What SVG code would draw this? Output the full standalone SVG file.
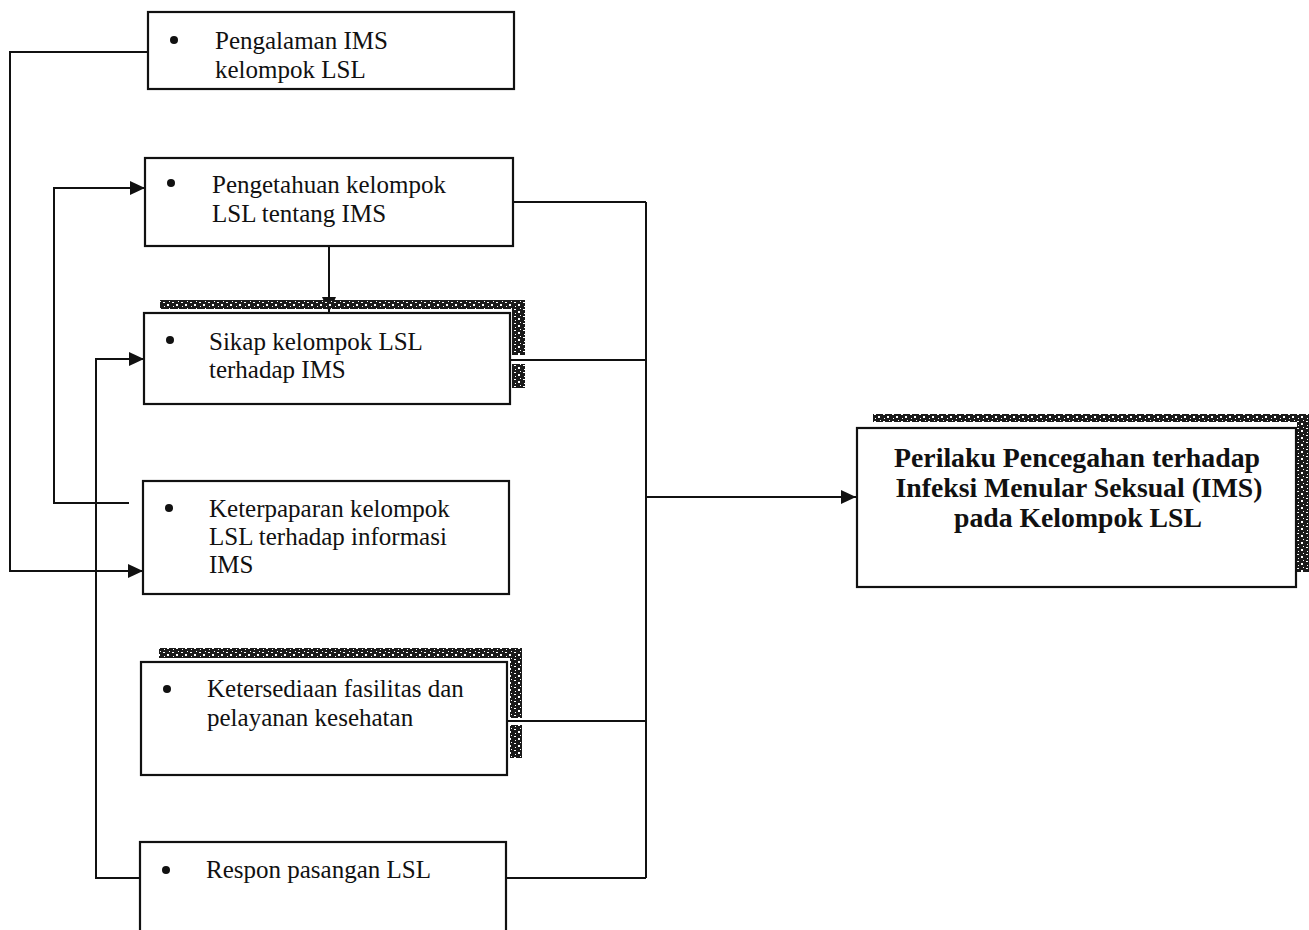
<svg xmlns="http://www.w3.org/2000/svg" width="1309" height="930" viewBox="0 0 1309 930">
  <defs>
    <marker id="ah" markerUnits="userSpaceOnUse" markerWidth="16" markerHeight="14" refX="15" refY="7" orient="auto">
      <path d="M0,0 L15,7 L0,14 z" fill="#111"/>
    </marker>
    <pattern id="noise" width="9" height="7" patternUnits="userSpaceOnUse">
      <rect width="9" height="7" fill="#1a1a1a"/>
      <rect x="1" y="1" width="2" height="1" fill="#fff"/>
      <rect x="5" y="3" width="2" height="2" fill="#fff"/>
      <rect x="2" y="5" width="1" height="1" fill="#fff"/>
      <rect x="7" y="0" width="1" height="1" fill="#fff"/>
    </pattern>
  </defs>
  <style>
    .box { fill: #fff; stroke: #111; stroke-width: 2.2; }
    .txt { font-family: "Liberation Serif", "Times New Roman", serif; font-size: 25px; fill: #111; }
    .title { font-family: "Liberation Serif", "Times New Roman", serif; font-size: 28px; font-weight: bold; fill: #111; }
    .conn { fill: none; stroke: #111; stroke-width: 2; }
    .shadow { fill: url(#noise); }
    .dot { fill: #111; }
  </style>
  <rect width="1309" height="930" fill="#fff"/>

  <g id="connectors">
    <path class="conn" d="M148,52 H10 V571 H143" marker-end="url(#ah)"/>
    <path class="conn" d="M129,503 H54 V188 H145" marker-end="url(#ah)"/>
    <path class="conn" d="M140,878 H96 V359 H144" marker-end="url(#ah)"/>
    <path class="conn" d="M329,246 V312" marker-end="url(#ah)"/>
    <path class="conn" d="M513,202 H646"/>
    <path class="conn" d="M511,360 H646"/>
    <path class="conn" d="M507,721 H646"/>
    <path class="conn" d="M506,878 H646"/>
    <path class="conn" d="M646,202 V878"/>
    <path class="conn" d="M646,497 H856" marker-end="url(#ah)"/>
  </g>

  <g id="node-pengalaman">
    <rect class="box" x="148" y="12" width="366" height="77"/>
    <circle class="dot" cx="174" cy="40" r="4"/>
    <text class="txt" x="215" y="49">Pengalaman IMS</text>
    <text class="txt" x="215" y="78">kelompok LSL</text>
  </g>

  <g id="node-pengetahuan">
    <rect class="box" x="145" y="158" width="368" height="88"/>
    <circle class="dot" cx="171" cy="183" r="4"/>
    <text class="txt" x="212" y="193">Pengetahuan kelompok</text>
    <text class="txt" x="212" y="222">LSL tentang IMS</text>
  </g>

  <g id="node-sikap">
    <rect class="shadow" x="160" y="300" width="365" height="9"/>
    <rect class="shadow" x="512" y="300" width="13" height="55"/>
    <rect class="shadow" x="512" y="364" width="13" height="24"/>
    <rect class="box" x="144" y="313" width="366" height="91"/>
    <circle class="dot" cx="170" cy="340" r="4"/>
    <text class="txt" x="209" y="350">Sikap kelompok LSL</text>
    <text class="txt" x="209" y="378">terhadap IMS</text>
  </g>

  <g id="node-keterpaparan">
    <rect class="box" x="143" y="481" width="366" height="113"/>
    <circle class="dot" cx="169" cy="508" r="4"/>
    <text class="txt" x="209" y="517">Keterpaparan kelompok</text>
    <text class="txt" x="209" y="545">LSL terhadap informasi</text>
    <text class="txt" x="209" y="573">IMS</text>
  </g>

  <g id="node-ketersediaan">
    <rect class="shadow" x="159" y="648" width="363" height="10"/>
    <rect class="shadow" x="510" y="648" width="12" height="70"/>
    <rect class="shadow" x="510" y="725" width="12" height="33"/>
    <rect class="box" x="141" y="662" width="366" height="113"/>
    <circle class="dot" cx="167" cy="689" r="4"/>
    <text class="txt" x="207" y="697">Ketersediaan fasilitas dan</text>
    <text class="txt" x="207" y="726">pelayanan kesehatan</text>
  </g>

  <g id="node-respon">
    <rect class="box" x="140" y="842" width="366" height="100"/>
    <circle class="dot" cx="166" cy="870" r="4"/>
    <text class="txt" x="206" y="878">Respon pasangan LSL</text>
  </g>

  <g id="node-perilaku">
    <rect class="shadow" x="873" y="414" width="436" height="8"/>
    <rect class="shadow" x="1297" y="414" width="12" height="158"/>
    <rect class="box" x="857" y="428" width="439" height="159"/>
    <text class="title" x="1077" y="467" text-anchor="middle" textLength="366" lengthAdjust="spacingAndGlyphs">Perilaku Pencegahan terhadap</text>
    <text class="title" x="1079" y="497" text-anchor="middle" textLength="367" lengthAdjust="spacingAndGlyphs">Infeksi Menular Seksual (IMS)</text>
    <text class="title" x="1078" y="527" text-anchor="middle" textLength="248" lengthAdjust="spacingAndGlyphs">pada Kelompok LSL</text>
  </g>
</svg>
